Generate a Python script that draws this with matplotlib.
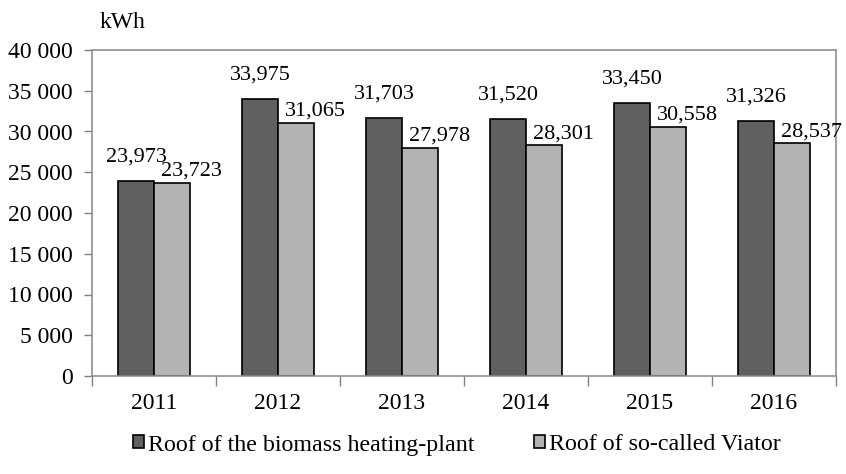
import matplotlib
matplotlib.use("Agg")
import matplotlib.pyplot as plt
import numpy as np
from matplotlib.ticker import FuncFormatter, MultipleLocator

years = ["2011", "2012", "2013", "2014", "2015", "2016"]
biomass = [23973, 33975, 31703, 31520, 33450, 31326]
viator = [23723, 31065, 27978, 28301, 30558, 28537]
series_names = ["Roof of the biomass heating-plant", "Roof of so-called Viator"]

plt.rcParams['font.family'] = ['Liberation Serif', 'DejaVu Serif']
FS = 17
FS_LBL = 16
FS_LEG = 17.3

fig = plt.figure(figsize=(8.46, 4.74), dpi=100)
ax = fig.add_axes([92/846, (474-376)/474, (836-92)/846, (376-50)/474])

x = np.arange(len(years))
w = 0.29
dark = "#606060"
light = "#b3b3b3"
b1 = ax.bar(x - w/2, biomass, w, color=dark, edgecolor="black", linewidth=1.2, label=series_names[0])
b2 = ax.bar(x + w/2, viator, w, color=light, edgecolor="black", linewidth=1.2, label=series_names[1])

def fmt_label(v):
    return f"{v:,}"

for xi, v in zip(x, biomass):
    ax.annotate(fmt_label(v), (xi - w/2, v), xytext=(0, 14), textcoords="offset points",
                ha="center", va="baseline", fontsize=FS_LBL)
for xi, v in zip(x, viator):
    ax.annotate(fmt_label(v), (xi + w/2, v), xytext=(14, 5), textcoords="offset points",
                ha="center", va="baseline", fontsize=FS_LBL)

ax.set_xlim(-0.5, len(years) - 0.5)
ax.set_ylim(0, 40000)
ax.yaxis.set_major_locator(MultipleLocator(5000))
ax.yaxis.set_major_formatter(FuncFormatter(lambda v, p: f"{int(v):,}".replace(",", " ")))

ax.set_xticks(x)
ax.set_xticklabels(years, fontsize=FS)
ax.set_xticks(np.arange(-0.5, len(years)), minor=True)
ax.tick_params(axis="x", which="major", length=0, pad=12)
ax.tick_params(axis="x", which="minor", length=7, color="#808080", width=1)
ax.tick_params(axis="y", labelsize=FS, length=6, color="#808080", width=1, pad=8)

for s in ax.spines.values():
    s.set_color("#909090")
    s.set_linewidth(1.2)

fig.text(100/846, 1 - 22/474, "kWh", fontsize=FS, va="center", ha="left")

fig.legend(handles=[b1, b2], labels=series_names, loc="center", bbox_to_anchor=(0.54, 29/474),
           ncol=2, frameon=False, fontsize=FS_LEG, handlelength=0.45, handleheight=0.45,
           handletextpad=0.15, columnspacing=2.5)

fig.savefig("out.png", dpi=100)
